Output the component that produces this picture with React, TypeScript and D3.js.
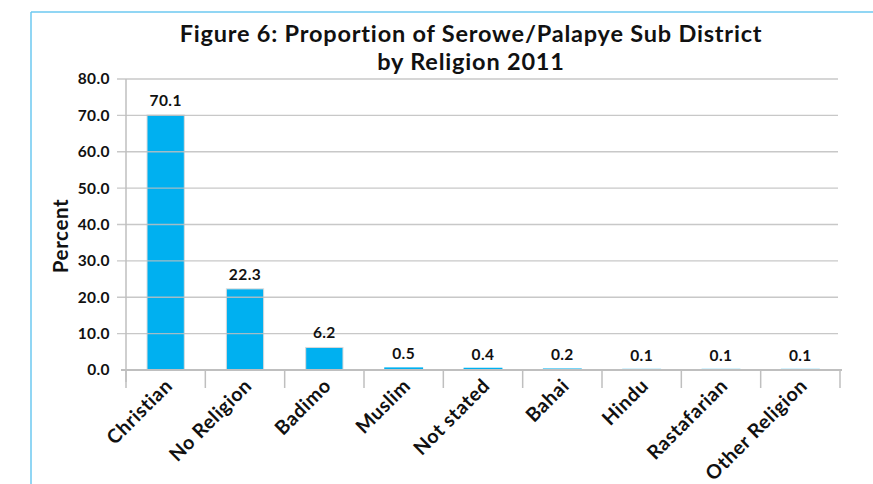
import React from 'react';
import * as d3 from 'd3';

// Religion shares, Serowe/Palapye Sub District, 2011
const RELIGIONS = [
  'Christian',
  'No Religion',
  'Badimo',
  'Muslim',
  'Not stated',
  'Bahai',
  'Hindu',
  'Rastafarian',
  'Other Religion',
];
const PERCENTS = [70.1, 22.3, 6.2, 0.5, 0.4, 0.2, 0.1, 0.1, 0.1];
const Y_TICKS = [0, 10, 20, 30, 40, 50, 60, 70, 80];

const WIDTH = 873;
const HEIGHT = 484;
const FONT = 'Lato, "Open Sans", sans-serif';
const BAR_COLOR = '#00b0f0';
const GRID_COLOR = '#bfbfbf';
const FRAME_COLOR = '#6cc9f0';

const margin = { top: 79, right: 33, bottom: 114, left: 126 };

const App = () => {
  const innerW = WIDTH - margin.left - margin.right;
  const innerH = HEIGHT - margin.top - margin.bottom;

  const x = d3.scaleBand<string>().domain(RELIGIONS).range([0, innerW]).padding(0);
  const y = d3.scaleLinear().domain([0, 80]).range([innerH, 0]);

  const barW = x.bandwidth() * 0.47;
  const fmt = d3.format('.1f');

  return (
    <svg
      width={WIDTH}
      height={HEIGHT}
      style={{ position: 'absolute', left: 0, top: 0, background: '#fff' }}
      fontFamily={FONT}
    >
      {/* outer frame, only left and top edges show */}
      <line x1={31} y1={12} x2={WIDTH} y2={12} stroke={FRAME_COLOR} strokeWidth={1.5} />
      <line x1={31} y1={12} x2={31} y2={HEIGHT} stroke={FRAME_COLOR} strokeWidth={1.5} />

      <g fontSize={23.5} fontWeight={700} fill="#111" letterSpacing={0.8} textAnchor="middle">
        <text x={471} y={42}>Figure 6: Proportion of Serowe/Palapye Sub District</text>
        <text x={471} y={70}>by Religion 2011</text>
      </g>

      <text
        transform={`translate(68,236) rotate(-90)`}
        textAnchor="middle"
        fontSize={20.5}
        fontWeight={700}
        letterSpacing={0.6}
        fill="#111"
      >
        Percent
      </text>

      <g transform={`translate(${margin.left},${margin.top})`}>
        {/* bars */}
        {RELIGIONS.map((r, i) => {
          const cx = (x(r) ?? 0) + x.bandwidth() / 2;
          const tiny = PERCENTS[i] < 1;
          return (
            <rect
              key={r}
              x={cx - barW / 2}
              y={y(PERCENTS[i])}
              width={barW}
              height={Math.max(0, innerH - y(PERCENTS[i]))}
              fill={BAR_COLOR}
              stroke={tiny ? BAR_COLOR : '#d9d9d9'}
              strokeWidth={tiny ? 1.6 : 1}
            />
          );
        })}

        {/* grid lines drawn over the bars */}
        {Y_TICKS.filter(t => t > 0).map(t => (
          <line
            key={t}
            x1={-9}
            x2={innerW - 2}
            y1={y(t)}
            y2={y(t)}
            stroke={GRID_COLOR}
            strokeWidth={1.3}
            opacity={0.85}
          />
        ))}

        {/* y axis */}
        <line x1={0} x2={0} y1={0} y2={innerH + 12} stroke={GRID_COLOR} strokeWidth={1.5} />
        {Y_TICKS.map(t => (
          <text
            key={t}
            x={-16}
            y={y(t)}
            dy="0.35em"
            textAnchor="end"
            fontSize={15.5}
            fontWeight={700}
            letterSpacing={0.4}
            fill="#111"
          >
            {fmt(t)}
          </text>
        ))}

        {/* x axis */}
        <line x1={-5} x2={innerW + 2} y1={innerH} y2={innerH} stroke={GRID_COLOR} strokeWidth={2} />
        {[...RELIGIONS.map(r => x(r) ?? 0), innerW].map((bx, i) => (
          <line key={i} x1={bx} x2={bx} y1={innerH} y2={innerH + 18} stroke={GRID_COLOR} strokeWidth={1.5} />
        ))}

        {/* value labels */}
        {RELIGIONS.map((r, i) => {
          const cx = (x(r) ?? 0) + x.bandwidth() / 2;
          return (
            <text
              key={r}
              x={cx}
              y={y(PERCENTS[i]) - 9}
              textAnchor="middle"
              fontSize={15.5}
              fontWeight={700}
              letterSpacing={0.4}
              fill="#111"
            >
              {fmt(PERCENTS[i])}
            </text>
          );
        })}

        {/* category labels */}
        {RELIGIONS.map(r => {
          const cx = (x(r) ?? 0) + x.bandwidth() / 2;
          return (
            <text
              key={r}
              transform={`translate(${cx + 8},${innerH + 17}) rotate(-45)`}
              textAnchor="end"
              fontSize={19.5}
              fontWeight={700}
              letterSpacing={0.6}
              fill="#111"
            >
              {r}
            </text>
          );
        })}
      </g>
    </svg>
  );
};

export default App;
